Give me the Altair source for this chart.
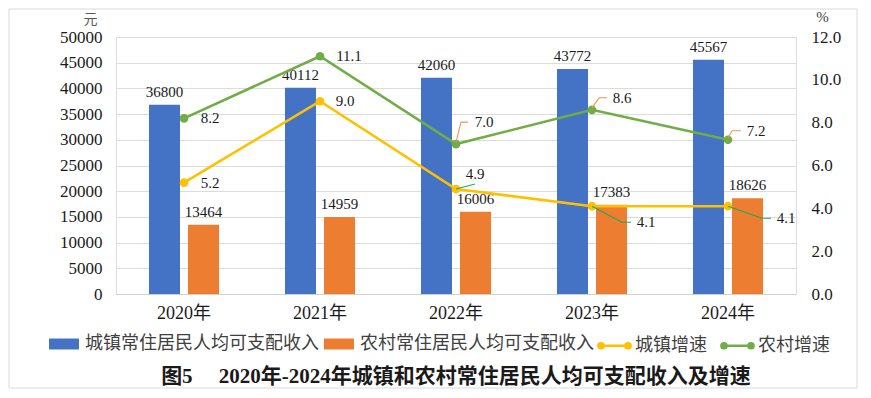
import altair as alt
import pandas as pd

# ---------------- data ----------------
years = ["2020年", "2021年", "2022年", "2023年", "2024年"]
urban_income = [36800, 40112, 42060, 43772, 45567]
rural_income = [13464, 14959, 16006, 17383, 18626]
urban_growth = [5.2, 9.0, 4.9, 4.1, 4.1]
rural_growth = [8.2, 11.1, 7.0, 8.6, 7.2]
bar_names = ["城镇常住居民人均可支配收入", "农村常住居民人均可支配收入"]
line_names = ["城镇增速", "农村增速"]
title_text = "图5\u3000\u00a02020年-2024年城镇和农村常住居民人均可支配收入及增速"

# ---------------- style ----------------
bar_colors = ["#4472C4", "#ED7D31"]
line_colors = ["#FFC000", "#70AD47"]
LAT = "Liberation Serif, Noto Sans CJK SC"
CJK = "Noto Sans CJK SC"
TXT = "#1a1a1a"
urban_lbl = [(26, 0), (25, 0), (19, -15), (54, 16), (58, 12)]
rural_lbl = [(26, 0), (29, 0), (28, -22), (30, -12), (28, -9)]
urban_leader = [None, None, "M0,0L19,-5", "M0,0L30,16L39,16", "M0,0L34,12L43,12"]
rural_leader = [None, None, "M0,-2L5,-22L12,-22", "M0,-2L7,-12L15,-12", "M0,-2L4,-9L13,-9"]
urban_leader_color = "#1DAA5A"
rural_leader_color = "#F0945A"

# ---------------- tables ----------------
bars_df = pd.DataFrame({
    "year": years * 2,
    "series": [bar_names[0]] * 5 + [bar_names[1]] * 5,
    "value": urban_income + rural_income,
})
growth_df = pd.DataFrame({
    "year": years * 2,
    "series": [line_names[0]] * 5 + [line_names[1]] * 5,
    "value": urban_growth + rural_growth,
})

x_enc = alt.X(
    "year:N", sort=years,
    scale=alt.Scale(paddingInner=0.485, paddingOuter=0.2425),
    axis=alt.Axis(title=None, labelAngle=0, labelFont=LAT, labelFontSize=18, labelColor=TXT,
                  labelPadding=10, ticks=False, domain=True, domainColor="#d0d0d0", domainWidth=1.2),
)
y_money = alt.Y(
    "value:Q", scale=alt.Scale(domain=[0, 50000], nice=False),
    axis=alt.Axis(values=list(range(0, 50001, 5000)), format="d", ticks=False, domain=False,
                  grid=True, gridColor="#dcdcdc", gridWidth=1.2,
                  labelFont=LAT, labelFontSize=17, labelColor=TXT, labelPadding=14,
                  title="元", titleAngle=0, titleFont=CJK, titleFontSize=14, titleFontWeight="normal",
                  titleColor="#595959", titleX=-26, titleY=-18, titleAlign="center", titleBaseline="middle"),
)
y_pct = alt.Y(
    "value:Q", scale=alt.Scale(domain=[0, 12], nice=False),
    axis=alt.Axis(orient="right", values=[0, 2, 4, 6, 8, 10, 12], format=".1f", ticks=False,
                  domain=False, grid=False,
                  labelFont=LAT, labelFontSize=17, labelColor=TXT, labelPadding=15,
                  title="%", titleAngle=0, titleFont=LAT, titleFontSize=15, titleFontWeight="normal",
                  titleColor="#404040", titleX=26, titleY=-21, titleAlign="center", titleBaseline="middle"),
)

rect_path = "M-1,-0.55H2V0.55H-1Z"
dot = lambda cx: "".join(
    f"M{cx - r},0a{r},{r} 0 1 0 {2 * r},0a{r},{r} 0 1 0 {-2 * r},0" for r in (0.08, 0.17, 0.26)
)
line_path = "M-1,0H2.4" + dot(-0.65) + dot(2.05)

bar_legend = alt.Legend(
    title=None, orient="none", direction="horizontal", columns=2,
    legendX=-67, legendY=297, padding=0,
    symbolType=rect_path, symbolSize=400, symbolStrokeWidth=0, symbolOpacity=1,
    labelOffset=16, columnPadding=5,
    labelFont=CJK, labelFontSize=18, labelColor="#404040", labelLimit=400,
)
line_legend = alt.Legend(
    title=None, orient="none", direction="horizontal", columns=2,
    legendX=480, legendY=297, padding=0,
    symbolType=line_path, symbolSize=400, symbolStrokeWidth=2.5, symbolOpacity=1,
    labelOffset=16, columnPadding=8,
    labelFont=CJK, labelFontSize=18, labelColor="#404040", labelLimit=400,
)

xoff = alt.XOffset("series:N", sort=bar_names, scale=alt.Scale(paddingInner=0.205, paddingOuter=0))
bars = alt.Chart(bars_df).mark_bar().encode(
    x=x_enc, xOffset=xoff, y=y_money,
    color=alt.Color("series:N", sort=bar_names,
                    scale=alt.Scale(domain=bar_names, range=bar_colors), legend=bar_legend),
)
bar_labels = alt.Chart(bars_df).mark_text(
    baseline="bottom", dy=-5, font=LAT, fontSize=15, color=TXT
).encode(x=x_enc, xOffset=xoff, y=y_money, text=alt.Text("value:Q", format="d"))
money_layer = alt.layer(bars, bar_labels)

lines = alt.Chart(growth_df).mark_line(strokeWidth=2.6).encode(
    x=x_enc, y=y_pct,
    color=alt.Color("series:N", sort=line_names,
                    scale=alt.Scale(domain=line_names, range=line_colors), legend=line_legend),
)
points = alt.Chart(growth_df).mark_point(filled=True, size=75, opacity=1, strokeOpacity=0).encode(
    x=x_enc, y=y_pct,
    fill=alt.Fill("series:N", scale=alt.Scale(domain=line_names, range=line_colors), legend=None),
)

pct_layers = [lines, points]
specs = [(line_names[0], urban_lbl, urban_leader, urban_leader_color),
         (line_names[1], rural_lbl, rural_leader, rural_leader_color)]
for sname, offs, leaders, lcol in specs:
    for i, yr in enumerate(years):
        sub = growth_df[(growth_df.series == sname) & (growth_df.year == yr)]
        dx, dy = offs[i]
        pct_layers.append(
            alt.Chart(sub).mark_text(dx=dx, dy=dy, align="center", baseline="middle",
                                     font=LAT, fontSize=15, color=TXT).encode(
                x=x_enc, y=y_pct, text=alt.Text("value:Q", format=".1f"))
        )
        if leaders[i]:
            pct_layers.append(
                alt.Chart(sub).mark_point(shape=leaders[i], size=4, filled=False, color=lcol,
                                          strokeWidth=1.1, opacity=1).encode(x=x_enc, y=y_pct)
            )
pct_layer = alt.layer(*pct_layers)

frame = alt.Chart(pd.DataFrame({"k": [0]})).mark_rect(
    fillOpacity=0, stroke="#d9d9d9", strokeWidth=1
).encode(x=alt.value(-107), x2=alt.value(741), y=alt.value(-28), y2=alt.value(351))

chart = alt.layer(money_layer, pct_layer, frame).resolve_scale(
    y="independent", color="independent"
).properties(
    width=680, height=257,
    padding={"left": 108, "top": 29, "right": 62, "bottom": 96},
    autosize=alt.AutoSizeParams(type="none"),
    title=alt.Title(title_text, orient="bottom", anchor="middle", frame="group",
                    offset=0, dy=-23, font=LAT, fontSize=21, fontWeight="bold", color="#1a1a1a"),
).configure_view(stroke=None).configure(background="white")

chart.save("out.html", embed_options={"renderer": "svg", "actions": False})
